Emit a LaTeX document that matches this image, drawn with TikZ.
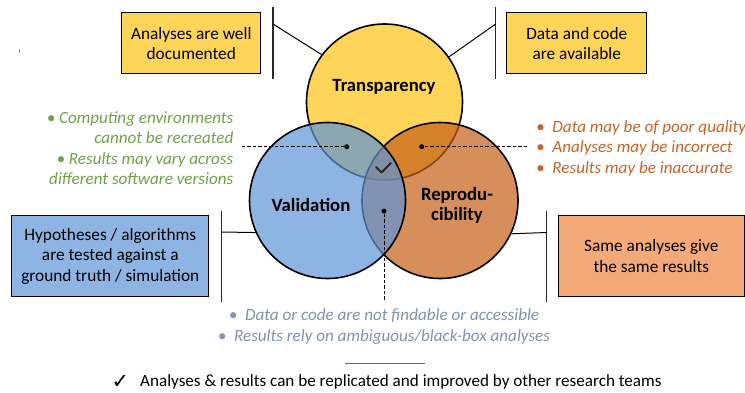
\documentclass[tikz,border=0pt]{standalone}
\usepackage{fontspec}
\setmainfont{Carlito}
\newfontfamily\symfont{DejaVu Sans}
\definecolor{yfill}{RGB}{254,213,88}
\definecolor{bbase}{RGB}{94,148,215}
\definecolor{obase}{RGB}{196,94,22}
\definecolor{bbox}{RGB}{142,180,227}
\definecolor{obox}{RGB}{244,170,120}
\definecolor{gtext}{RGB}{114,160,72}
\definecolor{otext}{RGB}{197,100,40}
\definecolor{stext}{RGB}{128,146,172}
\definecolor{bar}{RGB}{40,40,40}
\tikzset{
  venn/.style={circle, minimum size=156pt, inner sep=0pt, draw=black, line width=1.6pt},
  infobox/.style={draw=black, line width=1pt, inner sep=0pt, align=center, font=\fontsize{17.3}{20.3}\selectfont},
  barline/.style={draw=bar, line width=1.4pt},
  conn/.style={draw=black, line width=1pt},
  dotn/.style={circle, fill=black, inner sep=0pt, minimum size=5pt},
  leader/.style={draw=black, dashed, line width=0.9pt, dash pattern=on 3.5pt off 2pt},
  vlabel/.style={font=\fontsize{18.7}{19.5}\selectfont\bfseries, align=center},
  note/.style={font=\fontsize{17.1}{20.5}\selectfont\itshape, inner sep=0pt}
}
\begin{document}
\begin{tikzpicture}[x=1pt,y=-1pt]
\useasboundingbox (0,0) rectangle (745,393);
% circles
\node[venn, fill=yfill] (ty) at (384.5,102) {};
\node[venn, fill=obase, fill opacity=0.7] (tr) at (440,200.5) {};
\node[venn, fill=bbase, fill opacity=0.7] (tv) at (327.5,200.5) {};
% labels
\node[vlabel] (lt) at (384,87) {Transparency};
\node[vlabel] (lv) at (311,205) {Validation};
\node[vlabel] (lr) at (457,205.5) {Reprodu-\\cibility};
% center check
\draw[line width=1.8pt, draw=black!85, line cap=round, line join=round] (376,167) -- (381.5,172.5) -- (391,163);
% boxes
\node[infobox, fill=yfill, minimum width=139pt, minimum height=61pt] (b1) at (191.3,43.3) {Analyses are well\\documented};
\node[infobox, fill=yfill, minimum width=140pt, minimum height=61pt] (b2) at (576.8,43.3) {Data and code\\are available};
\node[infobox, fill=bbox, minimum width=197pt, minimum height=81pt] (b3) at (110.3,256.3) {Hypotheses / algorithms\\are tested against a\\ground truth / simulation};
\node[infobox, fill=obox, minimum width=186pt, minimum height=81pt] (b4) at (651.3,256.2) {Same analyses give\\the same results};
% bars
\coordinate (p1t) at (273,7); \coordinate (p1b) at (273,79);
\coordinate (p2t) at (495.7,7); \coordinate (p2b) at (495.7,79);
\coordinate (p3t) at (221.7,210.7); \coordinate (p3b) at (221.7,301.7);
\coordinate (p4t) at (546.7,210.7); \coordinate (p4b) at (546.7,301.7);
\draw[barline] (p1t) -- (p1b);
\draw[barline] (p2t) -- (p2b);
\draw[barline] (p3t) -- (p3b);
\draw[barline] (p4t) -- (p4b);
\coordinate (c1) at (273,24);
\coordinate (c2) at (495.7,24);
\coordinate (c3) at (221.7,232);
\coordinate (c4) at (546.7,232.5);
\draw[conn] (c1) -- (ty.143.3);
\draw[conn] (c2) -- (ty.35);
\draw[conn] (c3) -- (tv.204.3);
\draw[conn] (c4) -- (tr.335.4);
% dots and dashed leaders
\node[dotn] (d1) at (346.7,146.7) {};
\node[dotn] (d2) at (421.7,146.7) {};
\node[dotn] (d3) at (384,211) {};
\coordinate (e1) at (241.5,146.7);
\coordinate (e2) at (527,146.7);
\coordinate (e3) at (384,300);
\draw[leader] (e1) -- (d1);
\draw[leader] (e2) -- (d2);
\draw[leader] (d3) -- (e3);
% notes
\node[note, text=gtext, align=right, anchor=east] (ng) at (233.5,148) {\textbullet\ Computing environments\\cannot be recreated\\\textbullet\ Results may vary across\\different software versions};
\node[note, text=otext, align=left, anchor=west] (no) at (536,148) {\textbullet\ \ Data may be of poor quality\\\textbullet\ \ Analyses may be incorrect\\\textbullet\ \ Results may be inaccurate};
\node[note, text=stext, align=center] (ns) at (384,326.5) {\textbullet\ \ Data or code are not findable or accessible\\\textbullet\ \ Results rely on ambiguous/black-box analyses};
% bottom
\coordinate (h1) at (345,363); \coordinate (h2) at (425,363);
\draw[draw=black!60, line width=1pt] (h1) -- (h2);
\node[font=\symfont\fontsize{21}{22}\selectfont, inner sep=0pt] (chk) at (120.5,382) {✓};
\node[font=\fontsize{17.1}{20}\selectfont, inner sep=0pt, anchor=west] (bt) at (140,382) {Analyses \& results can be replicated and improved by other research teams};
% small mark
\coordinate (m1) at (19,49); \coordinate (m2) at (19,53.5);
\draw[draw=black!45, line width=0.8pt] (m1) -- (m2);
\end{tikzpicture}
\end{document}
